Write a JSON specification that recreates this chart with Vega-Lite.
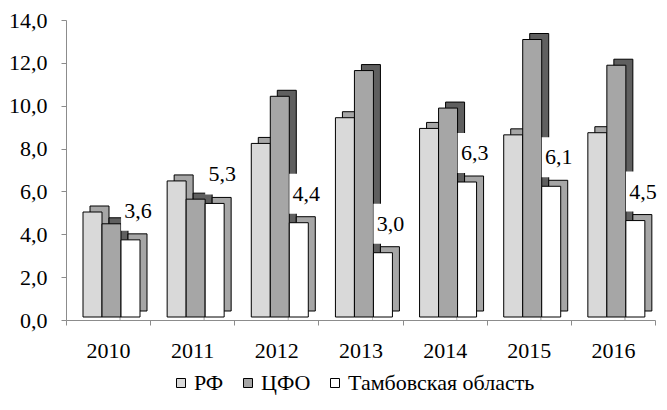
{
  "$schema": "https://vega.github.io/schema/vega-lite/v6.json",
  "autosize": {"type": "none"},
  "width": 589,
  "height": 300,
  "padding": {"left": 66, "top": 20, "right": 12, "bottom": 90},
  "background": "white",
  "config": {
    "view": {"stroke": null},
    "font": "Liberation Serif, Times New Roman, serif",
    "locale": {"number": {"decimal": ",", "thousands": " ", "grouping": [3], "currency": ["", " ₽"]}}
  },
  "data": {
    "values": [
      {"year": "2010", "series": "РФ", "value": 4.9},
      {"year": "2010", "series": "ЦФО", "value": 4.35},
      {"year": "2010", "series": "Тамбовская область", "value": 3.6},
      {"year": "2011", "series": "РФ", "value": 6.35},
      {"year": "2011", "series": "ЦФО", "value": 5.5},
      {"year": "2011", "series": "Тамбовская область", "value": 5.3},
      {"year": "2012", "series": "РФ", "value": 8.1},
      {"year": "2012", "series": "ЦФО", "value": 10.3},
      {"year": "2012", "series": "Тамбовская область", "value": 4.4},
      {"year": "2013", "series": "РФ", "value": 9.3},
      {"year": "2013", "series": "ЦФО", "value": 11.5},
      {"year": "2013", "series": "Тамбовская область", "value": 3.0},
      {"year": "2014", "series": "РФ", "value": 8.8},
      {"year": "2014", "series": "ЦФО", "value": 9.75},
      {"year": "2014", "series": "Тамбовская область", "value": 6.3},
      {"year": "2015", "series": "РФ", "value": 8.5},
      {"year": "2015", "series": "ЦФО", "value": 12.95},
      {"year": "2015", "series": "Тамбовская область", "value": 6.1},
      {"year": "2016", "series": "РФ", "value": 8.6},
      {"year": "2016", "series": "ЦФО", "value": 11.75},
      {"year": "2016", "series": "Тамбовская область", "value": 4.5}
    ]
  },
  "encoding": {
    "x": {
      "field": "year", "type": "nominal", "title": null,
      "scale": {"paddingInner": 0, "paddingOuter": 0},
      "axis": {
        "labelAngle": 0, "labelFontSize": 22, "labelColor": "black", "labelFont": "Liberation Serif, Times New Roman, serif",
        "domainColor": "#8c8c8c", "tickColor": "#8c8c8c", "tickSize": 5, "tickBand": "extent",
        "labelPadding": 15
      }
    },
    "y": {
      "field": "value", "type": "quantitative", "title": null,
      "scale": {"domain": [0, 14], "nice": false},
      "axis": {
        "values": [0, 2, 4, 6, 8, 10, 12, 14], "format": ".1f", "grid": false,
        "labelFontSize": 22, "labelColor": "black", "labelFont": "Liberation Serif, Times New Roman, serif",
        "domainColor": "#8c8c8c", "tickColor": "#8c8c8c", "tickSize": 5, "labelPadding": 14
      }
    }
  },
  "layer": [
    {
      "mark": {"type": "rule", "color": "#c8c8c8", "strokeWidth": 1, "xOffset": 12, "x2Offset": 12, "yOffset": -14},
      "encoding": {"y": {"datum": 0}}
    },
    {
      "mark": {"type": "bar", "stroke": "black", "strokeWidth": 1, "yOffset": -9, "y2Offset": -9},
      "encoding": {
        "xOffset": {
          "field": "series", "type": "nominal", "sort": ["РФ", "ЦФО", "Тамбовская область"],
          "scale": {"paddingOuter": 0, "paddingInner": 0, "range": [24, 81]}
        },
        "color": {
          "field": "series", "type": "nominal", "legend": null,
          "scale": {"domain": ["РФ", "ЦФО", "Тамбовская область"], "range": ["#a6a6a6", "#5f5f5f", "#a6a6a6"]}
        }
      }
    },
    {
      "mark": {"type": "bar", "stroke": "black", "strokeWidth": 1, "yOffset": -3, "y2Offset": -3},
      "encoding": {
        "xOffset": {
          "field": "series", "type": "nominal", "sort": ["РФ", "ЦФО", "Тамбовская область"],
          "scale": {"paddingOuter": 0, "paddingInner": 0, "range": [17, 74]}
        },
        "color": {
          "field": "series", "type": "nominal",
          "scale": {"domain": ["РФ", "ЦФО", "Тамбовская область"], "range": ["#d9d9d9", "#a6a6a6", "#ffffff"]},
          "legend": {
            "title": null, "orient": "none", "direction": "horizontal",
            "legendX": 104, "legendY": 352,
            "symbolType": "square", "symbolSize": 81, "symbolStrokeColor": "black", "symbolStrokeWidth": 1,
            "labelFontSize": 22, "labelFont": "Liberation Serif, Times New Roman, serif", "labelColor": "black",
            "labelOffset": 2, "columnPadding": 13, "labelLimit": 0
          }
        }
      }
    },
    {
      "transform": [{"filter": "datum.series === 'Тамбовская область'"}],
      "mark": {
        "type": "point", "filled": true, "color": "white", "opacity": 1, "strokeWidth": 0,
        "shape": "M-0.85,-1H0.85V1H-0.85Z", "size": 1600, "xOffset": 30, "yOffset": -32
      }
    },
    {
      "transform": [{"filter": "datum.series === 'Тамбовская область'"}],
      "mark": {"type": "text", "fontSize": 22, "font": "Liberation Serif, Times New Roman, serif", "color": "black", "dx": 30, "dy": -32, "baseline": "middle", "align": "center"},
      "encoding": {
        "text": {"field": "value", "type": "quantitative", "format": ".1f"}
      }
    }
  ],
  "resolve": {"scale": {"color": "independent", "xOffset": "independent"}}
}
